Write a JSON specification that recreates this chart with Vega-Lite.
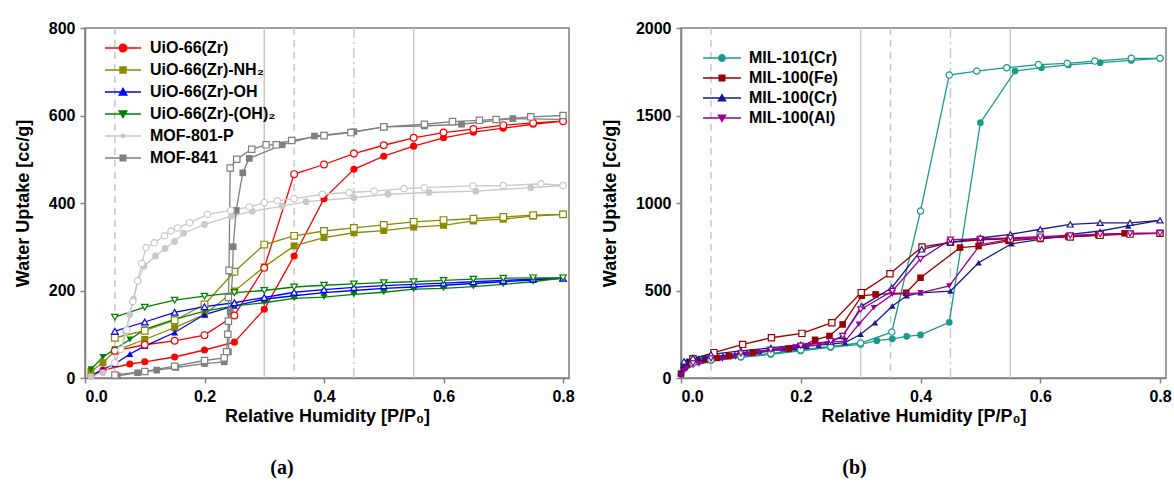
{
"$schema": "https://vega.github.io/schema/vega-lite/v6.json",
"padding": {"left": 13, "top": 19, "right": 4, "bottom": 4},
"spacing": 25,
"config": {
  "font": "Liberation Sans",
  "view": {"stroke": "#808080", "strokeWidth": 1.5},
  "axis": {"domainColor": "#808080", "domainWidth": 1.5, "tickColor": "#808080", "tickWidth": 1.5, "tickSize": 5, "labelFont": "Liberation Sans", "labelFontWeight": "bold", "labelFontSize": 16, "labelColor": "#000000", "labelPadding": 5, "titleFont": "Liberation Sans", "titleFontWeight": "bold", "titleFontSize": 18, "titleColor": "#000000", "grid": false},
  "legend": {"labelFont": "Liberation Sans", "labelFontWeight": "bold", "labelFontSize": 16, "labelColor": "#000000", "symbolSize": 100, "symbolStrokeWidth": 0, "padding": 0, "symbolOpacity": 1}
},
"datasets": {
"a": [
{"m":"Zr","b":"a","x":0.01,"y":5},{"m":"Zr","b":"a","x":0.03,"y":18},{"m":"Zr","b":"a","x":0.075,"y":32},{"m":"Zr","b":"a","x":0.1,"y":37},{"m":"Zr","b":"a","x":0.15,"y":48},{"m":"Zr","b":"a","x":0.2,"y":64},{"m":"Zr","b":"a","x":0.25,"y":82},{"m":"Zr","b":"a","x":0.3,"y":157},{"m":"Zr","b":"a","x":0.35,"y":279},{"m":"Zr","b":"a","x":0.4,"y":410},{"m":"Zr","b":"a","x":0.45,"y":477},{"m":"Zr","b":"a","x":0.5,"y":507},{"m":"Zr","b":"a","x":0.55,"y":530},{"m":"Zr","b":"a","x":0.6,"y":549},{"m":"Zr","b":"a","x":0.65,"y":562},{"m":"Zr","b":"a","x":0.7,"y":571},{"m":"Zr","b":"a","x":0.75,"y":580},{"m":"Zr","b":"a","x":0.8,"y":587},
{"m":"Zr","b":"d","x":0.8,"y":587},{"m":"Zr","b":"d","x":0.75,"y":583},{"m":"Zr","b":"d","x":0.7,"y":578},{"m":"Zr","b":"d","x":0.65,"y":569},{"m":"Zr","b":"d","x":0.6,"y":561},{"m":"Zr","b":"d","x":0.55,"y":549},{"m":"Zr","b":"d","x":0.5,"y":532},{"m":"Zr","b":"d","x":0.45,"y":513},{"m":"Zr","b":"d","x":0.4,"y":488},{"m":"Zr","b":"d","x":0.35,"y":466},{"m":"Zr","b":"d","x":0.3,"y":252},{"m":"Zr","b":"d","x":0.25,"y":143},{"m":"Zr","b":"d","x":0.2,"y":98},{"m":"Zr","b":"d","x":0.15,"y":85},{"m":"Zr","b":"d","x":0.1,"y":76},{"m":"Zr","b":"d","x":0.05,"y":62},
{"m":"NH2","b":"a","x":0.01,"y":15},{"m":"NH2","b":"a","x":0.03,"y":35},{"m":"NH2","b":"a","x":0.05,"y":62},{"m":"NH2","b":"a","x":0.1,"y":88},{"m":"NH2","b":"a","x":0.15,"y":115},{"m":"NH2","b":"a","x":0.2,"y":145},{"m":"NH2","b":"a","x":0.25,"y":199},{"m":"NH2","b":"a","x":0.3,"y":254},{"m":"NH2","b":"a","x":0.35,"y":302},{"m":"NH2","b":"a","x":0.4,"y":321},{"m":"NH2","b":"a","x":0.45,"y":332},{"m":"NH2","b":"a","x":0.5,"y":337},{"m":"NH2","b":"a","x":0.55,"y":345},{"m":"NH2","b":"a","x":0.6,"y":349},{"m":"NH2","b":"a","x":0.65,"y":359},{"m":"NH2","b":"a","x":0.7,"y":363},{"m":"NH2","b":"a","x":0.75,"y":370},{"m":"NH2","b":"a","x":0.8,"y":374},
{"m":"NH2","b":"d","x":0.8,"y":374},{"m":"NH2","b":"d","x":0.75,"y":372},{"m":"NH2","b":"d","x":0.7,"y":368},{"m":"NH2","b":"d","x":0.65,"y":364},{"m":"NH2","b":"d","x":0.6,"y":361},{"m":"NH2","b":"d","x":0.55,"y":357},{"m":"NH2","b":"d","x":0.5,"y":350},{"m":"NH2","b":"d","x":0.45,"y":343},{"m":"NH2","b":"d","x":0.4,"y":336},{"m":"NH2","b":"d","x":0.35,"y":325},{"m":"NH2","b":"d","x":0.3,"y":305},{"m":"NH2","b":"d","x":0.25,"y":243},{"m":"NH2","b":"d","x":0.2,"y":168},{"m":"NH2","b":"d","x":0.15,"y":132},{"m":"NH2","b":"d","x":0.1,"y":108},{"m":"NH2","b":"d","x":0.05,"y":92},
{"m":"OH","b":"a","x":0.01,"y":5},{"m":"OH","b":"a","x":0.03,"y":20},{"m":"OH","b":"a","x":0.05,"y":32},{"m":"OH","b":"a","x":0.075,"y":55},{"m":"OH","b":"a","x":0.1,"y":73},{"m":"OH","b":"a","x":0.15,"y":104},{"m":"OH","b":"a","x":0.2,"y":145},{"m":"OH","b":"a","x":0.25,"y":165},{"m":"OH","b":"a","x":0.3,"y":180},{"m":"OH","b":"a","x":0.35,"y":188},{"m":"OH","b":"a","x":0.4,"y":195},{"m":"OH","b":"a","x":0.45,"y":200},{"m":"OH","b":"a","x":0.5,"y":205},{"m":"OH","b":"a","x":0.55,"y":208},{"m":"OH","b":"a","x":0.6,"y":212},{"m":"OH","b":"a","x":0.65,"y":216},{"m":"OH","b":"a","x":0.7,"y":220},{"m":"OH","b":"a","x":0.75,"y":224},{"m":"OH","b":"a","x":0.8,"y":228},
{"m":"OH","b":"d","x":0.8,"y":228},{"m":"OH","b":"d","x":0.75,"y":226},{"m":"OH","b":"d","x":0.7,"y":223},{"m":"OH","b":"d","x":0.65,"y":220},{"m":"OH","b":"d","x":0.6,"y":217},{"m":"OH","b":"d","x":0.55,"y":214},{"m":"OH","b":"d","x":0.5,"y":211},{"m":"OH","b":"d","x":0.45,"y":207},{"m":"OH","b":"d","x":0.4,"y":202},{"m":"OH","b":"d","x":0.35,"y":196},{"m":"OH","b":"d","x":0.3,"y":184},{"m":"OH","b":"d","x":0.25,"y":172},{"m":"OH","b":"d","x":0.2,"y":163},{"m":"OH","b":"d","x":0.15,"y":150},{"m":"OH","b":"d","x":0.1,"y":128},{"m":"OH","b":"d","x":0.05,"y":107},
{"m":"OH2","b":"a","x":0.01,"y":20},{"m":"OH2","b":"a","x":0.03,"y":48},{"m":"OH2","b":"a","x":0.05,"y":66},{"m":"OH2","b":"a","x":0.075,"y":88},{"m":"OH2","b":"a","x":0.1,"y":111},{"m":"OH2","b":"a","x":0.15,"y":134},{"m":"OH2","b":"a","x":0.2,"y":153},{"m":"OH2","b":"a","x":0.25,"y":165},{"m":"OH2","b":"a","x":0.3,"y":172},{"m":"OH2","b":"a","x":0.35,"y":182},{"m":"OH2","b":"a","x":0.4,"y":185},{"m":"OH2","b":"a","x":0.45,"y":191},{"m":"OH2","b":"a","x":0.5,"y":196},{"m":"OH2","b":"a","x":0.55,"y":203},{"m":"OH2","b":"a","x":0.6,"y":205},{"m":"OH2","b":"a","x":0.65,"y":209},{"m":"OH2","b":"a","x":0.7,"y":214},{"m":"OH2","b":"a","x":0.75,"y":220},{"m":"OH2","b":"a","x":0.8,"y":229},
{"m":"OH2","b":"d","x":0.8,"y":229},{"m":"OH2","b":"d","x":0.75,"y":229},{"m":"OH2","b":"d","x":0.7,"y":228},{"m":"OH2","b":"d","x":0.65,"y":226},{"m":"OH2","b":"d","x":0.6,"y":223},{"m":"OH2","b":"d","x":0.55,"y":220},{"m":"OH2","b":"d","x":0.5,"y":218},{"m":"OH2","b":"d","x":0.45,"y":215},{"m":"OH2","b":"d","x":0.4,"y":212},{"m":"OH2","b":"d","x":0.35,"y":208},{"m":"OH2","b":"d","x":0.3,"y":200},{"m":"OH2","b":"d","x":0.25,"y":195},{"m":"OH2","b":"d","x":0.2,"y":187},{"m":"OH2","b":"d","x":0.15,"y":178},{"m":"OH2","b":"d","x":0.1,"y":162},{"m":"OH2","b":"d","x":0.05,"y":139},
{"m":"801","b":"a","x":0.01,"y":3},{"m":"801","b":"a","x":0.03,"y":12},{"m":"801","b":"a","x":0.05,"y":35},{"m":"801","b":"a","x":0.06,"y":65},{"m":"801","b":"a","x":0.068,"y":105},{"m":"801","b":"a","x":0.075,"y":145},{"m":"801","b":"a","x":0.081,"y":180},{"m":"801","b":"a","x":0.089,"y":222},{"m":"801","b":"a","x":0.099,"y":256},{"m":"801","b":"a","x":0.118,"y":279},{"m":"801","b":"a","x":0.134,"y":296},{"m":"801","b":"a","x":0.15,"y":312},{"m":"801","b":"a","x":0.165,"y":331},{"m":"801","b":"a","x":0.2,"y":351},{"m":"801","b":"a","x":0.245,"y":370},{"m":"801","b":"a","x":0.28,"y":381},{"m":"801","b":"a","x":0.33,"y":393},{"m":"801","b":"a","x":0.37,"y":403},{"m":"801","b":"a","x":0.45,"y":412},{"m":"801","b":"a","x":0.507,"y":420},{"m":"801","b":"a","x":0.576,"y":424},{"m":"801","b":"a","x":0.654,"y":427},{"m":"801","b":"a","x":0.746,"y":435},{"m":"801","b":"a","x":0.8,"y":440},
{"m":"801","b":"d","x":0.8,"y":440},{"m":"801","b":"d","x":0.763,"y":444},{"m":"801","b":"d","x":0.7,"y":440},{"m":"801","b":"d","x":0.649,"y":439},{"m":"801","b":"d","x":0.568,"y":435},{"m":"801","b":"d","x":0.534,"y":433},{"m":"801","b":"d","x":0.484,"y":427},{"m":"801","b":"d","x":0.442,"y":424},{"m":"801","b":"d","x":0.397,"y":420},{"m":"801","b":"d","x":0.35,"y":410},{"m":"801","b":"d","x":0.322,"y":405},{"m":"801","b":"d","x":0.3,"y":401},{"m":"801","b":"d","x":0.275,"y":391},{"m":"801","b":"d","x":0.244,"y":383},{"m":"801","b":"d","x":0.205,"y":374},{"m":"801","b":"d","x":0.175,"y":355},{"m":"801","b":"d","x":0.155,"y":343},{"m":"801","b":"d","x":0.144,"y":336},{"m":"801","b":"d","x":0.133,"y":325},{"m":"801","b":"d","x":0.116,"y":309},{"m":"801","b":"d","x":0.102,"y":298},{"m":"801","b":"d","x":0.095,"y":262},{"m":"801","b":"d","x":0.088,"y":222},{"m":"801","b":"d","x":0.08,"y":175},{"m":"801","b":"d","x":0.07,"y":110},{"m":"801","b":"d","x":0.06,"y":65},{"m":"801","b":"d","x":0.05,"y":35},
{"m":"841","b":"a","x":0.054,"y":5},{"m":"841","b":"a","x":0.088,"y":12},{"m":"841","b":"a","x":0.12,"y":18},{"m":"841","b":"a","x":0.152,"y":24},{"m":"841","b":"a","x":0.2,"y":33},{"m":"841","b":"a","x":0.233,"y":37},{"m":"841","b":"a","x":0.24,"y":60},{"m":"841","b":"a","x":0.243,"y":150},{"m":"841","b":"a","x":0.247,"y":241},{"m":"841","b":"a","x":0.248,"y":300},{"m":"841","b":"a","x":0.253,"y":383},{"m":"841","b":"a","x":0.264,"y":469},{"m":"841","b":"a","x":0.275,"y":502},{"m":"841","b":"a","x":0.33,"y":533},{"m":"841","b":"a","x":0.384,"y":553},{"m":"841","b":"a","x":0.45,"y":563},{"m":"841","b":"a","x":0.501,"y":574},{"m":"841","b":"a","x":0.568,"y":576},{"m":"841","b":"a","x":0.63,"y":580},{"m":"841","b":"a","x":0.716,"y":593},{"m":"841","b":"a","x":0.8,"y":591},
{"m":"841","b":"d","x":0.8,"y":600},{"m":"841","b":"d","x":0.746,"y":597},{"m":"841","b":"d","x":0.688,"y":591},{"m":"841","b":"d","x":0.66,"y":589},{"m":"841","b":"d","x":0.615,"y":586},{"m":"841","b":"d","x":0.568,"y":580},{"m":"841","b":"d","x":0.5,"y":574},{"m":"841","b":"d","x":0.445,"y":561},{"m":"841","b":"d","x":0.4,"y":554},{"m":"841","b":"d","x":0.346,"y":543},{"m":"841","b":"d","x":0.32,"y":533},{"m":"841","b":"d","x":0.303,"y":533},{"m":"841","b":"d","x":0.279,"y":523},{"m":"841","b":"d","x":0.254,"y":500},{"m":"841","b":"d","x":0.243,"y":480},{"m":"841","b":"d","x":0.241,"y":246},{"m":"841","b":"d","x":0.24,"y":184},{"m":"841","b":"d","x":0.24,"y":130},{"m":"841","b":"d","x":0.239,"y":100},{"m":"841","b":"d","x":0.237,"y":60},{"m":"841","b":"d","x":0.233,"y":46},{"m":"841","b":"d","x":0.2,"y":40},{"m":"841","b":"d","x":0.15,"y":27},{"m":"841","b":"d","x":0.1,"y":15},{"m":"841","b":"d","x":0.05,"y":7}
],
"b": [
{"m":"C101","b":"a","x":0.0,"y":20},{"m":"C101","b":"a","x":0.005,"y":55},{"m":"C101","b":"a","x":0.01,"y":70},{"m":"C101","b":"a","x":0.02,"y":85},{"m":"C101","b":"a","x":0.05,"y":100},{"m":"C101","b":"a","x":0.1,"y":118},{"m":"C101","b":"a","x":0.15,"y":135},{"m":"C101","b":"a","x":0.2,"y":155},{"m":"C101","b":"a","x":0.25,"y":175},{"m":"C101","b":"a","x":0.3,"y":192},{"m":"C101","b":"a","x":0.327,"y":213},{"m":"C101","b":"a","x":0.353,"y":224},{"m":"C101","b":"a","x":0.377,"y":238},{"m":"C101","b":"a","x":0.4,"y":246},{"m":"C101","b":"a","x":0.448,"y":318},{"m":"C101","b":"a","x":0.5,"y":1459},{"m":"C101","b":"a","x":0.558,"y":1754},{"m":"C101","b":"a","x":0.602,"y":1773},{"m":"C101","b":"a","x":0.647,"y":1789},{"m":"C101","b":"a","x":0.7,"y":1802},{"m":"C101","b":"a","x":0.752,"y":1815},{"m":"C101","b":"a","x":0.8,"y":1827},
{"m":"C101","b":"d","x":0.8,"y":1827},{"m":"C101","b":"d","x":0.752,"y":1827},{"m":"C101","b":"d","x":0.691,"y":1811},{"m":"C101","b":"d","x":0.645,"y":1798},{"m":"C101","b":"d","x":0.597,"y":1791},{"m":"C101","b":"d","x":0.544,"y":1773},{"m":"C101","b":"d","x":0.494,"y":1754},{"m":"C101","b":"d","x":0.448,"y":1731},{"m":"C101","b":"d","x":0.4,"y":954},{"m":"C101","b":"d","x":0.352,"y":262},{"m":"C101","b":"d","x":0.3,"y":200},{"m":"C101","b":"d","x":0.25,"y":180},{"m":"C101","b":"d","x":0.2,"y":160},{"m":"C101","b":"d","x":0.15,"y":140},{"m":"C101","b":"d","x":0.1,"y":122},{"m":"C101","b":"d","x":0.05,"y":103},{"m":"C101","b":"d","x":0.02,"y":85},
{"m":"Fe","b":"a","x":0.0,"y":25},{"m":"Fe","b":"a","x":0.005,"y":60},{"m":"Fe","b":"a","x":0.01,"y":75},{"m":"Fe","b":"a","x":0.02,"y":90},{"m":"Fe","b":"a","x":0.04,"y":105},{"m":"Fe","b":"a","x":0.06,"y":115},{"m":"Fe","b":"a","x":0.08,"y":125},{"m":"Fe","b":"a","x":0.1,"y":135},{"m":"Fe","b":"a","x":0.12,"y":145},{"m":"Fe","b":"a","x":0.15,"y":155},{"m":"Fe","b":"a","x":0.18,"y":168},{"m":"Fe","b":"a","x":0.2,"y":180},{"m":"Fe","b":"a","x":0.224,"y":218},{"m":"Fe","b":"a","x":0.248,"y":240},{"m":"Fe","b":"a","x":0.27,"y":306},{"m":"Fe","b":"a","x":0.302,"y":470},{"m":"Fe","b":"a","x":0.325,"y":478},{"m":"Fe","b":"a","x":0.376,"y":487},{"m":"Fe","b":"a","x":0.4,"y":573},{"m":"Fe","b":"a","x":0.466,"y":745},{"m":"Fe","b":"a","x":0.497,"y":754},{"m":"Fe","b":"a","x":0.547,"y":783},{"m":"Fe","b":"a","x":0.6,"y":798},{"m":"Fe","b":"a","x":0.647,"y":808},{"m":"Fe","b":"a","x":0.697,"y":817},{"m":"Fe","b":"a","x":0.741,"y":827},{"m":"Fe","b":"a","x":0.8,"y":827},
{"m":"Fe","b":"d","x":0.8,"y":827},{"m":"Fe","b":"d","x":0.75,"y":822},{"m":"Fe","b":"d","x":0.7,"y":815},{"m":"Fe","b":"d","x":0.65,"y":806},{"m":"Fe","b":"d","x":0.6,"y":800},{"m":"Fe","b":"d","x":0.55,"y":795},{"m":"Fe","b":"d","x":0.5,"y":790},{"m":"Fe","b":"d","x":0.45,"y":775},{"m":"Fe","b":"d","x":0.4025,"y":749},{"m":"Fe","b":"d","x":0.349,"y":596},{"m":"Fe","b":"d","x":0.301,"y":488},{"m":"Fe","b":"d","x":0.252,"y":316},{"m":"Fe","b":"d","x":0.202,"y":255},{"m":"Fe","b":"d","x":0.151,"y":230},{"m":"Fe","b":"d","x":0.103,"y":192},{"m":"Fe","b":"d","x":0.055,"y":145},{"m":"Fe","b":"d","x":0.02,"y":110},
{"m":"Cr","b":"a","x":0.0,"y":30},{"m":"Cr","b":"a","x":0.003,"y":70},{"m":"Cr","b":"a","x":0.006,"y":90},{"m":"Cr","b":"a","x":0.01,"y":100},{"m":"Cr","b":"a","x":0.015,"y":105},{"m":"Cr","b":"a","x":0.02,"y":108},{"m":"Cr","b":"a","x":0.03,"y":112},{"m":"Cr","b":"a","x":0.04,"y":116},{"m":"Cr","b":"a","x":0.05,"y":120},{"m":"Cr","b":"a","x":0.07,"y":128},{"m":"Cr","b":"a","x":0.09,"y":136},{"m":"Cr","b":"a","x":0.11,"y":145},{"m":"Cr","b":"a","x":0.13,"y":153},{"m":"Cr","b":"a","x":0.15,"y":160},{"m":"Cr","b":"a","x":0.17,"y":168},{"m":"Cr","b":"a","x":0.19,"y":175},{"m":"Cr","b":"a","x":0.21,"y":182},{"m":"Cr","b":"a","x":0.23,"y":188},{"m":"Cr","b":"a","x":0.25,"y":193},{"m":"Cr","b":"a","x":0.274,"y":202},{"m":"Cr","b":"a","x":0.3,"y":250},{"m":"Cr","b":"a","x":0.324,"y":316},{"m":"Cr","b":"a","x":0.353,"y":411},{"m":"Cr","b":"a","x":0.377,"y":470},{"m":"Cr","b":"a","x":0.4,"y":487},{"m":"Cr","b":"a","x":0.45,"y":497},{"m":"Cr","b":"a","x":0.497,"y":659},{"m":"Cr","b":"a","x":0.552,"y":767},{"m":"Cr","b":"a","x":0.6,"y":792},{"m":"Cr","b":"a","x":0.65,"y":821},{"m":"Cr","b":"a","x":0.7,"y":840},{"m":"Cr","b":"a","x":0.747,"y":869},{"m":"Cr","b":"a","x":0.8,"y":901},
{"m":"Cr","b":"d","x":0.8,"y":901},{"m":"Cr","b":"d","x":0.75,"y":887},{"m":"Cr","b":"d","x":0.7,"y":887},{"m":"Cr","b":"d","x":0.65,"y":878},{"m":"Cr","b":"d","x":0.6,"y":850},{"m":"Cr","b":"d","x":0.55,"y":821},{"m":"Cr","b":"d","x":0.5,"y":800},{"m":"Cr","b":"d","x":0.45,"y":775},{"m":"Cr","b":"d","x":0.402,"y":735},{"m":"Cr","b":"d","x":0.352,"y":516},{"m":"Cr","b":"d","x":0.302,"y":411},{"m":"Cr","b":"d","x":0.27,"y":240},{"m":"Cr","b":"d","x":0.25,"y":205},{"m":"Cr","b":"d","x":0.2,"y":190},{"m":"Cr","b":"d","x":0.15,"y":172},{"m":"Cr","b":"d","x":0.1,"y":155},{"m":"Cr","b":"d","x":0.05,"y":135},{"m":"Cr","b":"d","x":0.02,"y":115},{"m":"Cr","b":"d","x":0.005,"y":95},
{"m":"Al","b":"a","x":0.0,"y":15},{"m":"Al","b":"a","x":0.005,"y":40},{"m":"Al","b":"a","x":0.01,"y":55},{"m":"Al","b":"a","x":0.02,"y":70},{"m":"Al","b":"a","x":0.03,"y":80},{"m":"Al","b":"a","x":0.05,"y":95},{"m":"Al","b":"a","x":0.069,"y":107},{"m":"Al","b":"a","x":0.091,"y":120},{"m":"Al","b":"a","x":0.111,"y":135},{"m":"Al","b":"a","x":0.13,"y":145},{"m":"Al","b":"a","x":0.15,"y":154},{"m":"Al","b":"a","x":0.169,"y":164},{"m":"Al","b":"a","x":0.191,"y":177},{"m":"Al","b":"a","x":0.211,"y":183},{"m":"Al","b":"a","x":0.23,"y":188},{"m":"Al","b":"a","x":0.252,"y":205},{"m":"Al","b":"a","x":0.274,"y":211},{"m":"Al","b":"a","x":0.297,"y":307},{"m":"Al","b":"a","x":0.322,"y":402},{"m":"Al","b":"a","x":0.353,"y":478},{"m":"Al","b":"a","x":0.377,"y":482},{"m":"Al","b":"a","x":0.4,"y":487},{"m":"Al","b":"a","x":0.448,"y":526},{"m":"Al","b":"a","x":0.5,"y":763},{"m":"Al","b":"a","x":0.55,"y":792},{"m":"Al","b":"a","x":0.6,"y":802},{"m":"Al","b":"a","x":0.65,"y":811},{"m":"Al","b":"a","x":0.7,"y":821},{"m":"Al","b":"a","x":0.75,"y":825},{"m":"Al","b":"a","x":0.8,"y":827},
{"m":"Al","b":"d","x":0.8,"y":827},{"m":"Al","b":"d","x":0.75,"y":826},{"m":"Al","b":"d","x":0.7,"y":822},{"m":"Al","b":"d","x":0.65,"y":815},{"m":"Al","b":"d","x":0.6,"y":808},{"m":"Al","b":"d","x":0.55,"y":800},{"m":"Al","b":"d","x":0.5,"y":795},{"m":"Al","b":"d","x":0.45,"y":790},{"m":"Al","b":"d","x":0.4,"y":680},{"m":"Al","b":"d","x":0.353,"y":497},{"m":"Al","b":"d","x":0.3,"y":392},{"m":"Al","b":"d","x":0.27,"y":240},{"m":"Al","b":"d","x":0.25,"y":210},{"m":"Al","b":"d","x":0.2,"y":185},{"m":"Al","b":"d","x":0.15,"y":162},{"m":"Al","b":"d","x":0.1,"y":140},{"m":"Al","b":"d","x":0.05,"y":112},{"m":"Al","b":"d","x":0.02,"y":85}
]
},
"hconcat": [
{
 "width": 484, "height": 350,
 "title": {"text": "(a)", "orient": "bottom", "anchor": "middle", "font": "Liberation Serif", "fontSize": 20, "fontWeight": "bold", "color": "#000000", "offset": 33, "dx": -45},
 "encoding": {"x": {"field": "x", "type": "quantitative", "scale": {"domain": [0, 0.81], "nice": false, "zero": false}, "axis": {"values": [0, 0.2, 0.4, 0.6, 0.8], "format": ".1f", "title": "Relative Humidity [P/P₀]", "titlePadding": 3}}},
 "layer": [
  {"data": {"values": [{"x": 0.05, "k": "d"}, {"x": 0.3, "k": "s"}, {"x": 0.35, "k": "d"}, {"x": 0.45, "k": "dd"}, {"x": 0.55, "k": "s"}]},
   "mark": {"type": "rule", "color": "#c8c8c8", "strokeWidth": 1.5},
   "encoding": {"strokeDash": {"field": "k", "type": "nominal", "scale": {"domain": ["s", "d", "dd"], "range": [[1, 0], [7, 5], [10, 4, 2, 4]]}, "legend": null}}},
  {"data": {"name": "a"},
   "mark": {"type": "line", "strokeWidth": 1.3},
   "encoding": {
     "y": {"field": "y", "type": "quantitative", "scale": {"domain": [0, 800], "nice": false}, "axis": {"values": [0, 200, 400, 600, 800], "format": "d", "title": "Water Uptake [cc/g]", "titlePadding": 16}},
     "color": {"field": "m", "type": "nominal", "scale": {"domain": ["Zr", "NH2", "OH", "OH2", "801", "841"], "range": ["#ff0000", "#8a8a00", "#0000ff", "#008000", "#c8c8c8", "#808080"]}, "legend": null},
     "detail": {"field": "b"},
     "order": {"value": null}}},
  {"data": {"name": "a"}, "transform": [{"filter": "datum.b == 'a'"}],
   "mark": {"type": "point", "filled": true, "opacity": 1},
   "encoding": {
     "y": {"field": "y", "type": "quantitative"},
     "color": {"field": "m", "type": "nominal", "scale": {"domain": ["Zr", "NH2", "OH", "OH2", "801", "841"], "range": ["#ff0000", "#8a8a00", "#0000ff", "#008000", "#c8c8c8", "#808080"]}, "legend": null},
     "shape": {"field": "m", "type": "nominal", "scale": {"domain": ["Zr", "NH2", "OH", "OH2", "801", "841"], "range": ["circle", "square", "triangle-up", "triangle-down", "circle", "square"]}, "legend": null},
     "size": {"field": "m", "type": "nominal", "scale": {"domain": ["Zr", "NH2", "OH", "OH2", "801", "841"], "range": [50, 45, 55, 55, 18, 40]}, "legend": null}}},
  {"data": {"name": "a"}, "transform": [{"filter": "datum.b == 'd'"}],
   "mark": {"type": "point", "filled": false, "fill": "#ffffff", "strokeWidth": 1.2, "opacity": 1},
   "encoding": {
     "y": {"field": "y", "type": "quantitative"},
     "color": {"field": "m", "type": "nominal", "scale": {"domain": ["Zr", "NH2", "OH", "OH2", "801", "841"], "range": ["#ff0000", "#8a8a00", "#0000ff", "#008000", "#c8c8c8", "#808080"]}, "legend": null},
     "shape": {"field": "m", "type": "nominal", "scale": {"domain": ["Zr", "NH2", "OH", "OH2", "801", "841"], "range": ["circle", "square", "triangle-up", "triangle-down", "circle", "square"]}, "legend": null},
     "size": {"field": "m", "type": "nominal", "scale": {"domain": ["Zr", "NH2", "OH", "OH2", "801", "841"], "range": [45, 40, 50, 50, 18, 36]}, "legend": null}}},
  {"data": {"name": "a"}, "transform": [{"filter": "datum.b == 'a'"}],
   "mark": {"type": "point", "filled": true, "opacity": 0},
   "encoding": {
     "y": {"field": "y", "type": "quantitative"},
     "color": {"field": "m", "type": "nominal", "scale": {"domain": ["Zr", "NH2", "OH", "OH2", "801", "841"], "range": ["#ff0000", "#8a8a00", "#0000ff", "#008000", "#c8c8c8", "#808080"]},
       "legend": {"title": null, "orient": "none", "legendX": 30, "legendY": 12, "labelOffset": 19, "rowPadding": 6, "symbolOpacity": 1, "labelExpr": "datum.value == 'Zr' ? 'UiO-66(Zr)' : datum.value == 'NH2' ? 'UiO-66(Zr)-NH₂' : datum.value == 'OH' ? 'UiO-66(Zr)-OH' : datum.value == 'OH2' ? 'UiO-66(Zr)-(OH)₂' : datum.value == '801' ? 'MOF-801-P' : 'MOF-841'"}},
     "shape": {"field": "m", "type": "nominal", "scale": {"domain": ["Zr", "NH2", "OH", "OH2", "801", "841"], "range": [
        "M-3.6,-0.13H3.6V0.13H-3.6ZM-0.9,0A0.9,0.9 0 1,1 0.9,0A0.9,0.9 0 1,1 -0.9,0Z",
        "M-3.6,-0.13H3.6V0.13H-3.6ZM-0.75,-0.75H0.75V0.75H-0.75Z",
        "M-3.6,-0.13H3.6V0.13H-3.6ZM0,-1L1,0.75H-1Z",
        "M-3.6,-0.13H3.6V0.13H-3.6ZM0,1L-1,-0.75H1Z",
        "M-3.6,-0.13H3.6V0.13H-3.6ZM-0.5,0A0.5,0.5 0 1,1 0.5,0A0.5,0.5 0 1,1 -0.5,0Z",
        "M-3.6,-0.13H3.6V0.13H-3.6ZM-0.7,-0.7H0.7V0.7H-0.7Z"]},
       "legend": {"title": null, "orient": "none", "legendX": 30, "legendY": 12, "labelOffset": 19, "rowPadding": 6, "symbolOpacity": 1, "labelExpr": "datum.value == 'Zr' ? 'UiO-66(Zr)' : datum.value == 'NH2' ? 'UiO-66(Zr)-NH₂' : datum.value == 'OH' ? 'UiO-66(Zr)-OH' : datum.value == 'OH2' ? 'UiO-66(Zr)-(OH)₂' : datum.value == '801' ? 'MOF-801-P' : 'MOF-841'"}}}}
 ],
 "resolve": {"scale": {"color": "independent", "shape": "independent", "size": "independent"}}
},
{
 "width": 485, "height": 350,
 "title": {"text": "(b)", "orient": "bottom", "anchor": "middle", "font": "Liberation Serif", "fontSize": 20, "fontWeight": "bold", "color": "#000000", "offset": 33, "dx": -69},
 "encoding": {"x": {"field": "x", "type": "quantitative", "scale": {"domain": [0, 0.81], "nice": false, "zero": false}, "axis": {"values": [0, 0.2, 0.4, 0.6, 0.8], "format": ".1f", "title": "Relative Humidity [P/P₀]", "titlePadding": 3}}},
 "layer": [
  {"data": {"values": [{"x": 0.05, "k": "d"}, {"x": 0.3, "k": "s"}, {"x": 0.35, "k": "d"}, {"x": 0.45, "k": "dd"}, {"x": 0.55, "k": "s"}]},
   "mark": {"type": "rule", "color": "#c8c8c8", "strokeWidth": 1.5},
   "encoding": {"strokeDash": {"field": "k", "type": "nominal", "scale": {"domain": ["s", "d", "dd"], "range": [[1, 0], [7, 5], [10, 4, 2, 4]]}, "legend": null}}},
  {"data": {"name": "b"},
   "mark": {"type": "line", "strokeWidth": 1.3},
   "encoding": {
     "y": {"field": "y", "type": "quantitative", "scale": {"domain": [0, 2000], "nice": false}, "axis": {"values": [0, 500, 1000, 1500, 2000], "format": "d", "title": "Water Uptake [cc/g]", "titlePadding": 16}},
     "color": {"field": "m", "type": "nominal", "scale": {"domain": ["C101", "Fe", "Cr", "Al"], "range": ["#1a9a8c", "#990000", "#1a1a8c", "#990099"]}, "legend": null},
     "detail": {"field": "b"},
     "order": {"value": null}}},
  {"data": {"name": "b"}, "transform": [{"filter": "datum.b == 'a'"}],
   "mark": {"type": "point", "filled": true, "opacity": 1},
   "encoding": {
     "y": {"field": "y", "type": "quantitative"},
     "color": {"field": "m", "type": "nominal", "scale": {"domain": ["C101", "Fe", "Cr", "Al"], "range": ["#1a9a8c", "#990000", "#1a1a8c", "#990099"]}, "legend": null},
     "shape": {"field": "m", "type": "nominal", "scale": {"domain": ["C101", "Fe", "Cr", "Al"], "range": ["circle", "square", "triangle-up", "triangle-down"]}, "legend": null},
     "size": {"field": "m", "type": "nominal", "scale": {"domain": ["C101", "Fe", "Cr", "Al"], "range": [45, 40, 45, 45]}, "legend": null}}},
  {"data": {"name": "b"}, "transform": [{"filter": "datum.b == 'd'"}],
   "mark": {"type": "point", "filled": false, "fill": "#ffffff", "strokeWidth": 1.2, "opacity": 1},
   "encoding": {
     "y": {"field": "y", "type": "quantitative"},
     "color": {"field": "m", "type": "nominal", "scale": {"domain": ["C101", "Fe", "Cr", "Al"], "range": ["#1a9a8c", "#990000", "#1a1a8c", "#990099"]}, "legend": null},
     "shape": {"field": "m", "type": "nominal", "scale": {"domain": ["C101", "Fe", "Cr", "Al"], "range": ["circle", "square", "triangle-up", "triangle-down"]}, "legend": null},
     "size": {"field": "m", "type": "nominal", "scale": {"domain": ["C101", "Fe", "Cr", "Al"], "range": [40, 36, 40, 40]}, "legend": null}}},
  {"data": {"name": "b"}, "transform": [{"filter": "datum.b == 'a'"}],
   "mark": {"type": "point", "filled": true, "opacity": 0},
   "encoding": {
     "y": {"field": "y", "type": "quantitative"},
     "color": {"field": "m", "type": "nominal", "scale": {"domain": ["C101", "Fe", "Cr", "Al"], "range": ["#1a9a8c", "#990000", "#1a1a8c", "#990099"]},
       "legend": {"title": null, "orient": "none", "legendX": 33, "legendY": 22, "labelOffset": 19, "rowPadding": 4, "symbolOpacity": 1, "labelExpr": "datum.value == 'C101' ? 'MIL-101(Cr)' : datum.value == 'Fe' ? 'MIL-100(Fe)' : datum.value == 'Cr' ? 'MIL-100(Cr)' : 'MIL-100(Al)'"}},
     "shape": {"field": "m", "type": "nominal", "scale": {"domain": ["C101", "Fe", "Cr", "Al"], "range": [
        "M-3.8,-0.13H3.8V0.13H-3.8ZM-0.8,0A0.8,0.8 0 1,1 0.8,0A0.8,0.8 0 1,1 -0.8,0Z",
        "M-3.8,-0.13H3.8V0.13H-3.8ZM-0.7,-0.7H0.7V0.7H-0.7Z",
        "M-3.8,-0.13H3.8V0.13H-3.8ZM0,-0.95L0.95,0.7H-0.95Z",
        "M-3.8,-0.13H3.8V0.13H-3.8ZM0,0.95L-0.95,-0.7H0.95Z"]},
       "legend": {"title": null, "orient": "none", "legendX": 33, "legendY": 22, "labelOffset": 19, "rowPadding": 4, "symbolOpacity": 1, "labelExpr": "datum.value == 'C101' ? 'MIL-101(Cr)' : datum.value == 'Fe' ? 'MIL-100(Fe)' : datum.value == 'Cr' ? 'MIL-100(Cr)' : 'MIL-100(Al)'"}}}}
 ],
 "resolve": {"scale": {"color": "independent", "shape": "independent", "size": "independent"}}
}
]
}
